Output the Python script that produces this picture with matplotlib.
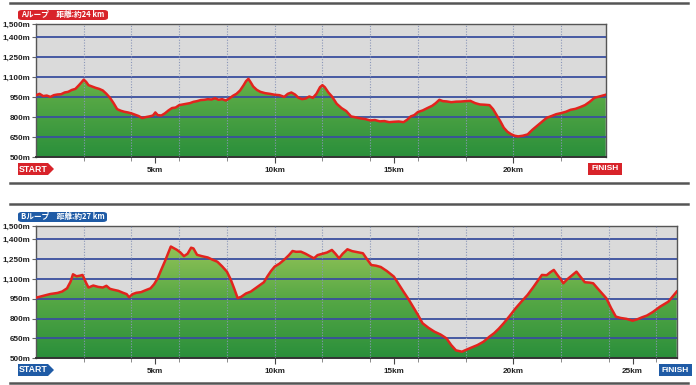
import matplotlib
matplotlib.use("Agg")
import matplotlib.pyplot as plt
import numpy as np
from matplotlib.colors import LinearSegmentedColormap
from matplotlib.patches import Polygon, Rectangle, FancyBboxPatch
from matplotlib.lines import Line2D

# ---------------- data ----------------
a_km = [0.0, 0.15, 0.3, 0.45, 0.6, 0.75, 0.9, 1.05, 1.2, 1.35, 1.5, 1.65, 1.8, 1.9, 2.0, 2.1, 2.2, 2.35,
        2.5, 2.65, 2.8, 2.95, 3.1, 3.25, 3.4, 3.55, 3.7, 3.85, 4.0, 4.15, 4.3, 4.45, 4.6, 4.75, 4.9, 5.0,
        5.1, 5.25, 5.4, 5.55, 5.7, 5.85, 6.0, 6.15, 6.3, 6.45, 6.6, 6.75, 6.9, 7.05, 7.2, 7.35, 7.5, 7.65,
        7.8, 7.95, 8.1, 8.25, 8.4, 8.55, 8.7, 8.8, 8.9, 9.0, 9.1, 9.25, 9.4, 9.6, 9.8, 10.0, 10.2, 10.4,
        10.55, 10.7, 10.85, 11.0, 11.15, 11.3, 11.45, 11.6, 11.75, 11.9, 12.0, 12.1, 12.25, 12.4, 12.6,
        12.8, 13.0, 13.2, 13.4, 13.6, 13.8, 14.0, 14.2, 14.4, 14.6, 14.8, 15.0, 15.2, 15.4, 15.55, 15.7,
        15.85, 16.0, 16.2, 16.4, 16.6, 16.75, 16.9, 17.05, 17.2, 17.4, 17.6, 17.8, 18.0, 18.2, 18.4, 18.6,
        18.8, 19.0, 19.15, 19.3, 19.45, 19.6, 19.75, 19.9, 20.05, 20.2, 20.4, 20.6, 20.8, 21.0, 21.2, 21.4,
        21.6, 21.8, 22.0, 22.2, 22.4, 22.6, 22.8, 23.0, 23.2, 23.4, 23.6, 23.87]
a_elev = [965, 975, 958, 962, 952, 965, 970, 972, 985, 990, 1004, 1012, 1040, 1060, 1082, 1065, 1040, 1030,
          1020, 1012, 1000, 975, 945, 905, 860, 848, 840, 835, 828, 818, 808, 793, 800, 805, 812, 835,
          815, 812, 828, 850, 868, 872, 890, 895, 900, 905, 915, 920, 928, 930, 935, 932, 942, 930,
          935, 925, 940, 960, 975, 1000, 1040, 1070, 1088, 1060, 1030, 1005, 990, 980, 975, 968, 965, 952,
          975, 985, 970, 945, 935, 940, 955, 945, 975, 1025, 1040, 1025, 985, 955, 900,
          868, 845, 805, 798, 790, 785, 775, 778, 768, 770, 762, 765, 767, 762, 780, 805,
          815, 838, 850, 868, 885, 905, 930, 920, 918, 912, 916, 917, 920, 922, 905, 895,
          893, 890, 860, 815, 770, 720, 690, 672, 660, 655, 660, 670, 705, 735, 765, 795,
          808, 822, 830, 840, 855, 862, 875, 890, 915, 945, 955, 968]

b_km = [0.0, 0.3, 0.6, 0.9, 1.1, 1.3, 1.45, 1.55, 1.7, 1.85, 1.95, 2.1, 2.2, 2.4, 2.6, 2.8, 2.95, 3.1, 3.25,
        3.45, 3.65, 3.8, 3.9, 4.05, 4.2, 4.4, 4.6, 4.8, 4.95, 5.1, 5.25, 5.4, 5.55, 5.65, 5.75, 5.9, 6.05,
        6.2, 6.35, 6.5, 6.6, 6.75, 6.95, 7.2, 7.4, 7.6, 7.8, 8.0, 8.15, 8.3, 8.45, 8.6, 8.8, 9.0, 9.2,
        9.4, 9.55, 9.7, 9.85, 10.0, 10.2, 10.4, 10.6, 10.75, 10.9, 11.1, 11.3, 11.5, 11.65, 11.8, 12.0,
        12.2, 12.4, 12.55, 12.7, 12.85, 13.05, 13.25, 13.5, 13.7, 13.85, 14.05, 14.25, 14.45, 14.7, 15.0,
        15.2, 15.4, 15.6, 15.8, 16.0, 16.2, 16.45, 16.7, 16.95, 17.2, 17.4, 17.6, 17.85, 18.1, 18.3, 18.5,
        18.75, 19.0, 19.2, 19.4, 19.6, 19.85, 20.1, 20.35, 20.6, 20.85, 21.05, 21.2, 21.4, 21.55, 21.7,
        21.85, 22.0, 22.1, 22.25, 22.4, 22.55, 22.65, 22.8, 23.0, 23.2, 23.35, 23.6, 23.9, 24.1, 24.3,
        24.5, 24.75, 25.0, 25.2, 25.4, 25.6, 25.85, 26.15, 26.5, 26.85]
b_elev = [958, 972, 986, 994, 1005, 1029, 1080, 1135, 1120, 1125, 1130, 1070, 1035, 1050, 1040, 1035, 1048,
          1025, 1018, 1010, 995, 985, 962, 985, 995, 1000, 1015, 1029, 1060, 1105, 1170, 1232, 1300, 1345,
          1335, 1320, 1300, 1272, 1290, 1336, 1330, 1282, 1272, 1262, 1245, 1230, 1195, 1155, 1100, 1030,
          955, 965, 990, 1004, 1030, 1055, 1075, 1120, 1160, 1193, 1215, 1245, 1280, 1311, 1305, 1306,
          1290, 1270, 1256, 1280, 1290, 1300, 1319, 1290, 1256, 1290, 1324, 1310, 1301, 1294, 1255, 1205,
          1200, 1190, 1160, 1117, 1060, 1004, 950, 890, 830, 765, 730, 701, 680, 651, 600, 560, 550, 570,
          585, 600, 625, 663, 690, 725, 765, 820, 878, 930, 979, 1040, 1092, 1130, 1128, 1150, 1168, 1130,
          1095, 1067, 1095, 1118, 1140, 1155, 1120, 1075, 1072, 1067, 1015, 954, 880, 815, 805, 798, 784,
          795, 810, 823, 850, 890, 928, 1004]

y_ticks = [500, 650, 800, 950, 1100, 1250, 1400, 1500]
y_labels = ["500m", "650m", "800m", "950m", "1,100m", "1,250m", "1,400m", "1,500m"]
a_xticks = [5, 10, 15, 20]
b_xticks = [5, 10, 15, 20, 25]
a_title = "Aループ　距離:約24 km"
b_title = "Bループ　距離:約27 km"

# ---------------- style ----------------
W, H = 696, 385
fig = plt.figure(figsize=(W / 100, H / 100), dpi=100)
fig.patch.set_facecolor("white")

FONT = ["Liberation Sans", "DejaVu Sans"]
CJK = ["Noto Sans CJK JP", "DejaVu Sans"]
RED = "#d8232a"
BLUE = "#1f5ba6"
green_cmap = LinearSegmentedColormap.from_list("g", ["#2a8f3b", "#57a845", "#9cc75a"])


def fx(x):
    return x / W


def fy(y):
    return 1 - y / H


def profile(left, top, right, bottom, km, elev, xmax, xticks):
    ax = fig.add_axes([fx(left), fy(bottom), fx(right - left), fy(top) - fy(bottom)])
    ax.set_facecolor("#dadada")
    ax.set_xlim(0, xmax)
    ax.set_ylim(500, 1500)
    poly = ax.fill_between(km, 500, elev, color="none", lw=0, zorder=2)
    grad = np.linspace(0, 1, 256).reshape(-1, 1)
    im = ax.imshow(grad, extent=[0, xmax, 500, 1400], origin="lower", cmap=green_cmap,
                   aspect="auto", zorder=2)
    path = poly.get_paths()[0]
    im.set_clip_path(path, transform=ax.transData)
    ax.set_xlim(0, xmax)
    ax.set_ylim(500, 1500)
    for v in y_ticks[1:-1]:
        ax.axhline(v, color="#3a4f9e", lw=1.3, zorder=3)
    for v in np.arange(2, xmax, 2):
        ax.axvline(v, color="#8a96b8", lw=0.8, ls=(0, (1, 1.5)), zorder=3)
    ax.plot(km, elev, color="#e3231d", lw=1.8, zorder=4, solid_joinstyle="round")
    ax.set_yticks(y_ticks)
    ax.set_yticklabels(y_labels, fontfamily=FONT, fontweight="bold", fontsize=5.9, color="#222")
    ax.set_xticks(xticks)
    ax.set_xticklabels([f"{t}km" for t in xticks], fontfamily=FONT, fontweight="bold",
                       fontsize=5.9, color="#222")
    ax.set_xticks(np.arange(2, xmax, 2), minor=True)
    ax.tick_params(axis="y", length=3, width=0.8, color="#666", pad=1)
    ax.tick_params(axis="x", which="major", length=4, width=0.8, color="#444", pad=3)
    ax.tick_params(axis="x", which="minor", length=3, width=0.6, color="#777")
    for s in ax.spines.values():
        s.set_color("#555")
        s.set_linewidth(1.0)
    ax.spines["bottom"].set_linewidth(1.4)
    ax.spines["bottom"].set_color("#333")
    return ax


profile(36, 24, 605.7, 157, a_km, a_elev, 23.87, a_xticks)
profile(36, 226, 676.7, 358.3, b_km, b_elev, 26.85, b_xticks)

for yy in [3, 183, 204, 383]:
    fig.add_artist(Line2D([fx(10), fx(688)], [fy(yy), fy(yy)], color="#555", lw=1.8))


def badge(x0, y0, x1, y1, color, text):
    fig.add_artist(FancyBboxPatch((fx(x0), fy(y1)), fx(x1 - x0), fy(y0) - fy(y1),
                                  boxstyle="round,pad=0,rounding_size=0.006",
                                  transform=fig.transFigure, fc=color, ec="none"))
    fig.text(fx((x0 + x1) / 2), fy((y0 + y1) / 2), text, color="white", fontsize=5.5,
             fontfamily=CJK, fontweight="bold", ha="center", va="center")


badge(18, 10, 108, 20, RED, a_title)
badge(18, 212, 107, 222, BLUE, b_title)


def start_arrow(x0, y0, x1, y1, color):
    tip = 6
    pts = [(x0, y0), (x1 - tip, y0), (x1, (y0 + y1) / 2), (x1 - tip, y1), (x0, y1)]
    fig.add_artist(Polygon([(fx(px), fy(py)) for px, py in pts], closed=True,
                           transform=fig.transFigure, fc=color, ec="none"))
    fig.text(fx((x0 + x1 - tip) / 2 + 0.5), fy((y0 + y1) / 2), "START", color="white", fontsize=6.3,
             fontfamily=FONT, fontweight="bold", ha="center", va="center")


def finish_box(x0, y0, x1, y1, color):
    fig.add_artist(Rectangle((fx(x0), fy(y1)), fx(x1 - x0), fy(y0) - fy(y1),
                             transform=fig.transFigure, fc=color, ec="none"))
    fig.text(fx((x0 + x1) / 2), fy((y0 + y1) / 2), "FINISH", color="white", fontsize=6.0,
             fontfamily=FONT, fontweight="bold", ha="center", va="center")


start_arrow(18, 163, 54, 175, RED)
finish_box(588, 163, 622, 175, RED)
start_arrow(18, 364, 54, 376, BLUE)
finish_box(659, 364, 692, 376, BLUE)

fig.savefig("out.png", dpi=100, facecolor="white")
